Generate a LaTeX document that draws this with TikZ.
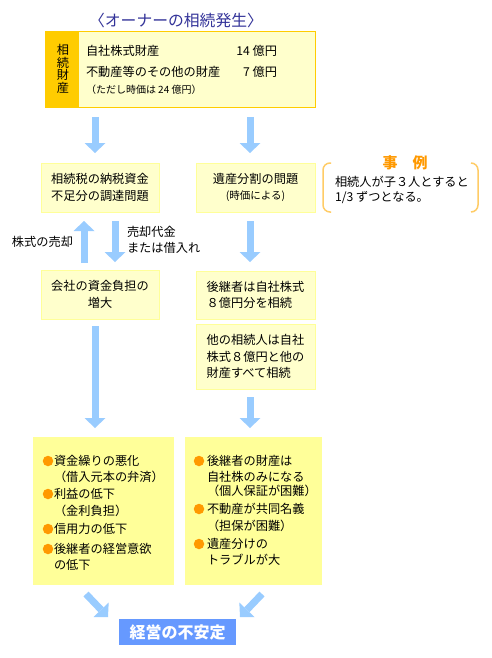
\documentclass[tikz,border=0pt]{standalone}
\usepackage{fontspec}
\setmainfont{Noto Sans CJK JP}
\usetikzlibrary{arrows.meta}
\definecolor{titleblue}{HTML}{333399}
\definecolor{goldline}{HTML}{FFCC00}
\definecolor{paleyellow}{HTML}{FFFFCC}
\definecolor{lemon}{HTML}{FFFF99}
\definecolor{skyarrow}{HTML}{99CCFF}
\definecolor{resultblue}{HTML}{6699FF}
\definecolor{bulorange}{HTML}{FF9900}
\definecolor{bracketor}{HTML}{FFCC66}
\tikzset{
  base/.style={inner sep=0pt, outer sep=0pt, font=\fontsize{12.2}{16.5}\selectfont},
  ybox/.style={base, rectangle, fill=paleyellow, draw=lemon, line width=1pt, align=center},
  lbox/.style={base, rectangle, fill=lemon},
  txt/.style={base, anchor=west},
  bul/.style={circle, fill=bulorange, minimum size=10.5pt, inner sep=0pt, outer sep=0pt},
  barrow/.style={draw=skyarrow, line width=7pt, -{Triangle[length=10pt, width=21pt, line width=0pt]}},
  brk/.style={draw=bracketor, line width=1.5pt, rounded corners=7pt}
}
\begin{document}
\begin{tikzpicture}[x=1pt,y=-1pt]
\useasboundingbox (0,0) rectangle (492,658);
\fill[white] (0,0) rectangle (492,658);
% title
\node[base, font=\fontsize{15.8}{18}\selectfont, text=titleblue] (title) at (176,20) {〈オーナーの相続発生〉};
% top box
\node[base, rectangle, fill=paleyellow, draw=goldline, line width=1pt, minimum width=270pt, minimum height=76pt] (top) at (180,70) {};
\node[base, rectangle, fill=goldline, minimum width=34pt, minimum height=76pt] (topside) at (62,70) {};
\node[base, align=center, font=\fontsize{12.2}{12.7}\selectfont] (vert) at (63,69) {相\\続\\財\\産};
\node[txt] (r1) at (86,51) {自社株式財産};
\node[base, anchor=east] (r1v) at (277,51) {14 億円};
\node[txt] (r2) at (86,72) {不動産等のその他の財産};
\node[base, anchor=east] (r2v) at (277,72) {7 億円};
\node[txt, font=\fontsize{10}{12}\selectfont] (r3) at (86,90) {（ただし時価は 24 億円）};
% middle boxes
\node[ybox, minimum width=118pt, minimum height=49pt] (A) at (100,187.5) {相続税の納税資金\\不足分の調達問題};
\node[ybox, minimum width=119pt, minimum height=49pt] (B) at (255.5,187.5) {遺産分割の問題\\{\fontsize{10.5}{12}\selectfont (時価による)}};
\node[ybox, minimum width=118pt, minimum height=49pt] (C) at (100,294.5) {会社の資金負担の\\増大};
\node[ybox, align=left, minimum width=119pt, minimum height=48pt] (D) at (255.5,295) {後継者は自社株式\\８億円分を相続};
\node[ybox, align=left, minimum width=119pt, minimum height=65pt] (E) at (255.5,356.5) {他の相続人は自社\\株式８億円と他の\\財産すべて相続};
% example
\draw[brk] (331,163) -- (323,163) -- (323,212) -- (331,212);
\draw[brk] (471,163) -- (478,163) -- (478,212) -- (471,212);
\node[base, font=\fontsize{15}{16}\selectfont\bfseries, text=bulorange] (ex) at (405,163) {事　例};
\node[txt] (ex1) at (335,182) {相続人が子３人とすると};
\node[txt] (ex2) at (335,198) {1/3 ずつとなる。};
% side labels
\node[txt] (sell) at (12,242) {株式の売却};
\node[txt] (pay1) at (127,232) {売却代金};
\node[txt] (pay2) at (127,248) {または借入れ};
% bottom boxes
\node[lbox, minimum width=141pt, minimum height=148pt] (F) at (103.5,511) {};
\node[lbox, minimum width=137pt, minimum height=148pt] (G) at (253.5,511) {};
\node[bul] (fb1) at (48,461) {};
\node[bul] (fb2) at (48,494) {};
\node[bul] (fb3) at (48,529) {};
\node[bul] (fb4) at (48,549) {};
\node[txt] (f1) at (54,461) {資金繰りの悪化};
\node[txt] (f2) at (54,477) {（借入元本の弁済）};
\node[txt] (f3) at (54,494) {利益の低下};
\node[txt] (f4) at (54,511) {（金利負担）};
\node[txt] (f5) at (54,529) {信用力の低下};
\node[txt] (f6) at (54,549) {後継者の経営意欲};
\node[txt] (f7) at (54,565) {の低下};
\node[bul] (gb1) at (199,461) {};
\node[bul] (gb2) at (199,509) {};
\node[bul] (gb3) at (199,544) {};
\node[txt] (g1) at (207,461) {後継者の財産は};
\node[txt] (g2) at (207,477) {自社株のみになる};
\node[txt] (g3) at (207,491) {（個人保証が困難）};
\node[txt] (g4) at (207,509) {不動産が共同名義};
\node[txt] (g5) at (207,526) {（担保が困難）};
\node[txt] (g6) at (207,544) {遺産分けの};
\node[txt] (g7) at (207,560) {トラブルが大};
% result
\node[base, rectangle, fill=resultblue, minimum width=117pt, minimum height=26pt, text=white, font=\fontsize{16}{18}\selectfont\bfseries] (R) at (177.5,632) {経営の不安定};
% arrows
\coordinate (xl) at (95,0);
\coordinate (xr) at (250,0);
\coordinate (xu) at (84,0);
\coordinate (xd) at (115,0);
\draw[barrow, shorten <=9pt, shorten >=10pt] (top.south -| xl) -- (A.north -| xl);
\draw[barrow, shorten <=9pt, shorten >=10pt] (top.south -| xr) -- (B.north -| xr);
\draw[barrow, shorten <=7pt, shorten >=9pt] (C.north -| xu) -- (A.south -| xu);
\draw[barrow, shorten <=9pt, shorten >=8pt] (A.south -| xd) -- (C.north -| xd);
\draw[barrow, shorten <=9pt, shorten >=9pt] (B.south -| xr) -- (D.north -| xr);
\draw[barrow, shorten <=7pt, shorten >=9pt] (C.south -| xl) -- (F.north -| xl);
\draw[barrow, shorten <=8pt, shorten >=9pt] (E.south -| xr) -- (G.north -| xr);
\coordinate (dls) at (86,594);
\coordinate (dle) at (108,617);
\coordinate (drs) at (262,594);
\coordinate (dre) at (240,617);
\draw[barrow] (dls) -- (dle);
\draw[barrow] (drs) -- (dre);
\end{tikzpicture}
\end{document}
